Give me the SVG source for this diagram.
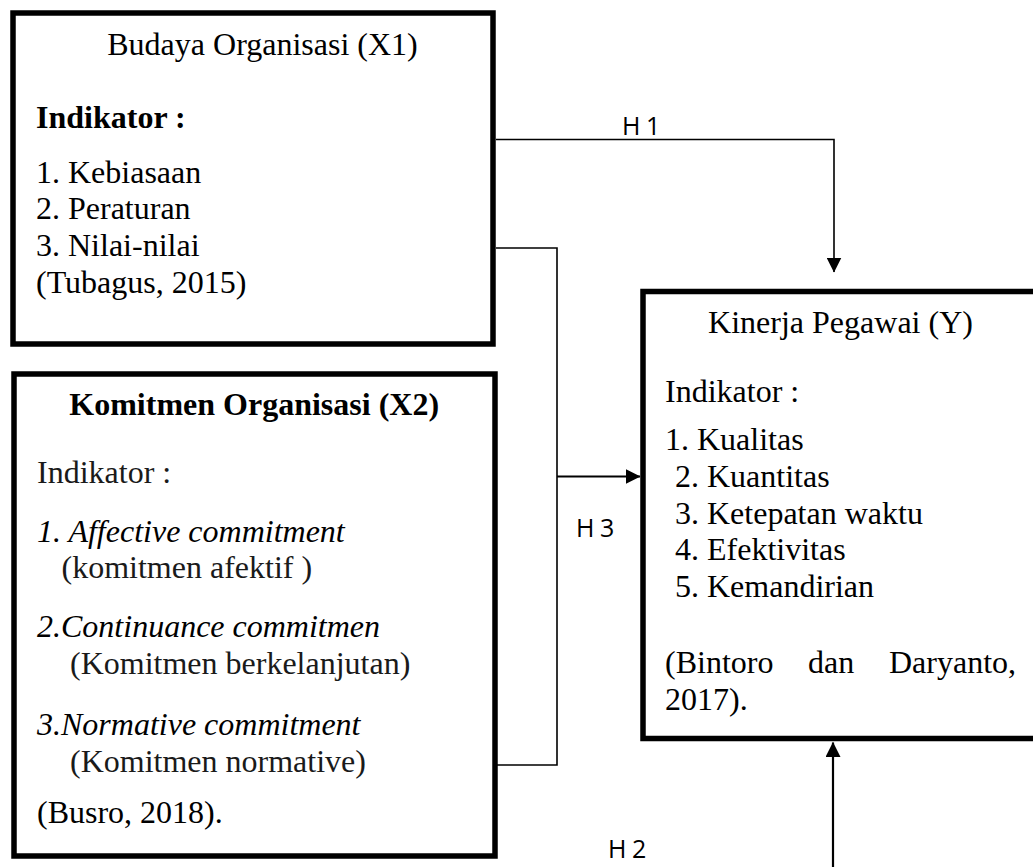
<svg xmlns="http://www.w3.org/2000/svg" width="1033" height="867" viewBox="0 0 1033 867">
<style>
.box{fill:#fff;stroke:#000;stroke-width:5.5}
.t{font-family:"Liberation Serif","Times New Roman",serif;font-size:32px;fill:#000}
.b{font-weight:bold}
.i{font-style:italic}
.g{fill:#1a1a1a}
.conn{fill:none;stroke:#000;stroke-width:1.6}
.shaft{fill:none;stroke:#000;stroke-width:2.2}
.lbl{font-family:"Open Sans","Liberation Sans",sans-serif;font-size:25px;fill:#000;letter-spacing:-0.5px}
</style>
<defs>
<marker id="arr" markerUnits="userSpaceOnUse" markerWidth="15" markerHeight="15" refX="14.5" refY="7.5" orient="auto" viewBox="0 0 15 15">
<path d="M0,0 L15,7.5 L0,15 z" fill="#000"/>
</marker>
</defs>
<rect width="1033" height="867" fill="#fff"/>
<g id="connectors">
<polyline class="conn" points="496,139.5 834,139.5 834,272" marker-end="url(#arr)"/>
<polyline class="conn" points="496,248 557,248 557,765 496,765"/>
<line class="shaft" x1="557" y1="476.5" x2="640" y2="476.5" marker-end="url(#arr)"/>
<line class="shaft" x1="833" y1="867" x2="833" y2="742.5" marker-end="url(#arr)"/>
<text class="lbl" x="622" y="135">H 1</text>
<text class="lbl" x="576" y="537">H 3</text>
<text class="lbl" x="608" y="858">H 2</text>
</g>
<g id="budaya">
<rect class="box" x="13" y="13" width="480" height="331"/>
<text class="t" x="262.5" y="55" text-anchor="middle">Budaya Organisasi (X1)</text>
<text class="t b" x="36" y="128.3">Indikator :</text>
<text class="t" x="36" y="182.7">1. Kebiasaan</text>
<text class="t" x="36" y="219.4">2. Peraturan</text>
<text class="t" x="36" y="256.1">3. Nilai-nilai</text>
<text class="t" x="36" y="292.8">(Tubagus, 2015)</text>
</g>
<g id="komitmen">
<rect class="box" x="14" y="374" width="481" height="482"/>
<text class="t b" x="254.2" y="415" text-anchor="middle">Komitmen Organisasi (X2)</text>
<text class="t g" x="37" y="483.3">Indikator :</text>
<text class="t i" x="37" y="541.7">1. Affective commitment</text>
<text class="t g" x="61.5" y="578.3">(komitmen afektif )</text>
<text class="t i" x="37" y="636.7">2.Continuance commitmen</text>
<text class="t g" x="70" y="674.3">(Komitmen berkelanjutan)</text>
<text class="t i" x="37" y="735">3.Normative commitment</text>
<text class="t g" x="70" y="771.7">(Komitmen normative)</text>
<text class="t" x="37" y="823.3">(Busro, 2018).</text>
</g>
<g id="kinerja">
<rect class="box" x="643" y="291.5" width="400" height="447"/>
<text class="t" x="840.5" y="333" text-anchor="middle">Kinerja Pegawai (Y)</text>
<text class="t" x="665" y="401.7">Indikator :</text>
<text class="t" x="665" y="450">1. Kualitas</text>
<text class="t" x="675" y="486.7">2. Kuantitas</text>
<text class="t" x="675" y="523.5">3. Ketepatan waktu</text>
<text class="t" x="675" y="560.3">4. Efektivitas</text>
<text class="t" x="675" y="597">5. Kemandirian</text>
<text class="t" y="672.7"><tspan x="665">(Bintoro</tspan><tspan x="808">dan</tspan><tspan x="889">Daryanto,</tspan></text>
<text class="t" x="665" y="709.5">2017).</text>
</g>
</svg>
